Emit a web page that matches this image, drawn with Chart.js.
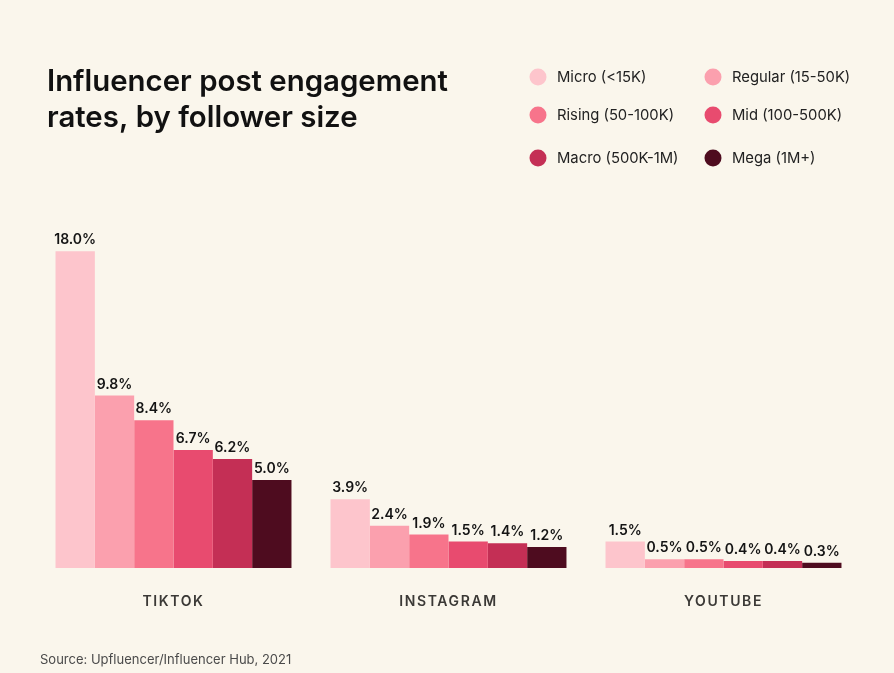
<!DOCTYPE html>
<html>
<head>
<meta charset="utf-8">
<script src="https://cdn.jsdelivr.net/npm/chart.js@4.4.1/dist/chart.umd.min.js"></script>
<style>
  html, body { margin: 0; padding: 0; background: #FAF6EC; }
  #wrap { width: 894px; height: 673px; position: relative; }
</style>
</head>
<body>
<div id="wrap"><canvas id="c"></canvas></div>
<script>
const platforms = ["TIKTOK", "INSTAGRAM", "YOUTUBE"];
const tierLabels = ["Micro (<15K)", "Regular (15-50K)", "Rising (50-100K)", "Mid (100-500K)", "Macro (500K-1M)", "Mega (1M+)"];
const micro   = [18.0, 3.9, 1.5];
const regular = [9.8, 2.4, 0.5];
const rising  = [8.4, 1.9, 0.5];
const mid     = [6.7, 1.5, 0.4];
const macro   = [6.2, 1.4, 0.4];
const mega    = [5.0, 1.2, 0.3];
const tierColors = ["#FDC5CC", "#FBA0AE", "#F7748B", "#E84B6F", "#C42F55", "#4E0C1F"];
const titleLines = ["Influencer post engagement", "rates, by follower size"];
const sourceText = "Source: Upfluencer/Influencer Hub, 2021";

const seriesValues = [micro, regular, rising, mid, macro, mega];

const decor = {
  id: 'decor',
  beforeDraw(chart) {
    const ctx = chart.ctx;
    ctx.save();
    ctx.fillStyle = '#FAF6EC';
    ctx.fillRect(0, 0, chart.width, chart.height);
    ctx.restore();
  },
  afterDatasetsDraw(chart) {
    const ctx = chart.ctx;
    ctx.save();
    ctx.font = '600 14px Inter, "Noto Sans", sans-serif';
    ctx.fillStyle = '#141414';
    ctx.textAlign = 'center';
    ctx.textBaseline = 'alphabetic';
    chart.data.datasets.forEach((ds, i) => {
      const meta = chart.getDatasetMeta(i);
      meta.data.forEach((bar, j) => {
        ctx.fillText(ds.data[j].toFixed(1) + '%', bar.x, bar.y - 7);
      });
    });
    ctx.restore();
    // letter spacing for the x tick labels drawn after datasets
    ctx.letterSpacing = '1.6px';
  },
  afterDraw(chart) {
    const ctx = chart.ctx;
    ctx.letterSpacing = '0px';
    ctx.save();
    // title
    ctx.fillStyle = '#111111';
    ctx.font = '600 29.4px Inter, "Noto Sans", sans-serif';
    ctx.textAlign = 'left';
    ctx.textBaseline = 'alphabetic';
    ctx.fillText(titleLines[0], 47, 91);
    ctx.fillText(titleLines[1], 47, 127);
    // legend
    const cols = [538, 713];
    const rows = [77, 115, 158];
    ctx.font = '400 14.8px Inter, "Noto Sans", sans-serif';
    ctx.textBaseline = 'middle';
    chart.data.datasets.forEach((ds, i) => {
      const cx = cols[i % 2];
      const cy = rows[Math.floor(i / 2)];
      ctx.beginPath();
      ctx.arc(cx, cy, 8.5, 0, Math.PI * 2);
      ctx.fillStyle = ds.backgroundColor;
      ctx.fill();
      ctx.fillStyle = '#222222';
      ctx.fillText(ds.label, cx + 19, cy + 1);
    });
    // source
    ctx.font = '400 13px Inter, "Noto Sans", sans-serif';
    ctx.fillStyle = '#4a4a4a';
    ctx.textBaseline = 'alphabetic';
    ctx.fillText(sourceText, 40, 664);
    ctx.restore();
  }
};

new Chart(document.getElementById('c'), {
  type: 'bar',
  data: {
    labels: platforms,
    datasets: tierLabels.map((lab, i) => ({
      label: lab,
      data: seriesValues[i],
      backgroundColor: tierColors[i],
      borderWidth: 0,
      barPercentage: 1.0,
      categoryPercentage: 0.858
    }))
  },
  options: {
    responsive: true,
    maintainAspectRatio: false,
    animation: false,
    devicePixelRatio: 1,
    layout: { padding: { left: 36, right: 33, top: 216, bottom: 0 } },
    plugins: {
      legend: { display: false },
      title: { display: false },
      tooltip: { enabled: false }
    },
    scales: {
      x: {
        grid: { display: false, drawTicks: false },
        border: { display: false },
        ticks: {
          z: 1,
          padding: 25,
          color: '#3b3936',
          font: { family: 'Inter, "Noto Sans", sans-serif', size: 14, weight: '600' }
        },
        afterFit(scale) { scale.height = 105; }
      },
      y: {
        display: false,
        min: 0,
        max: 20
      }
    }
  },
  plugins: [decor]
});
</script>
</body>
</html>
